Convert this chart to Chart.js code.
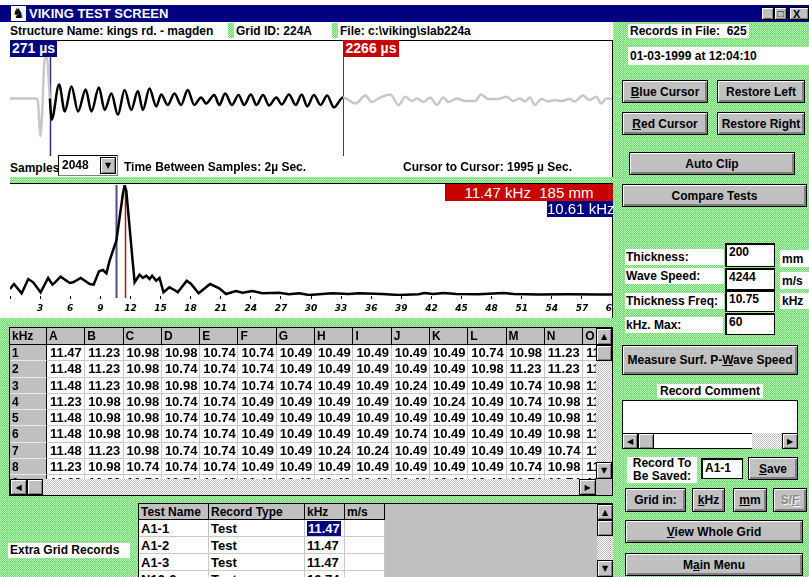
<!DOCTYPE html>
<html>
<head>
<title>Viking Test Screen</title>
<script src="https://cdn.jsdelivr.net/npm/chart.js"></script>
<style>
    body {
        margin: 0;
        width: 809px;
        height: 577px;
        overflow: hidden;
        position: relative;
        font: bold 12px "Liberation Sans", Arial, sans-serif;
        color: #000;
        background: repeating-conic-gradient(#66dd66 0 25%, #bff7bf 0 50%) 0 0 / 2px 2px;
    }
    .abs { position: absolute; }
    .hatch { background: repeating-conic-gradient(#66dd66 0 25%, #bff7bf 0 50%) 0 0 / 2px 2px; }
    .lbl { position: absolute; background: #fff; white-space: pre; line-height: 14px; }
    .btn {
        position: absolute; box-sizing: border-box;
        background: #c0c0c0; border: 1px solid #000;
        box-shadow: inset 1px 1px #fff, inset -2px -2px #808080;
        display: flex; align-items: center; justify-content: center; white-space: pre;
    }
    .btn.off { color: #8a8a8a; text-shadow: 1px 1px #fff; }
    .inp {
        position: absolute; box-sizing: border-box; background: #fff;
        border: 1px solid #000; border-top-width: 2px; border-left-width: 2px;
        padding: 0 0 0 2px; line-height: 15px;
    }
    .arr {
        position: absolute; box-sizing: border-box; background: #c0c0c0;
        border: 1px solid #000; box-shadow: inset 1px 1px #fff, inset -1px -1px #808080;
        font: 8px "DejaVu Sans", sans-serif; display: flex; align-items: center; justify-content: center;
    }
    .track { position: absolute; background: repeating-conic-gradient(#c0c0c0 0 25%, #fff 0 50%) 0 0 / 2px 2px; }
    .grid { position: absolute; display: grid; overflow: hidden; background: #fff; }
    .grid div { box-sizing: border-box; white-space: nowrap; overflow: visible; }
    .hd { background: #c0c0c0; border-right: 1px solid #000; border-bottom: 1px solid #000; padding-left: 2px; font-size: 12px; line-height: 16px; }
    .rh { background: #c0c0c0; border-right: 1px solid #000; border-bottom: 1px solid #e8e8e8; padding-left: 2px; font-size: 12px; line-height: 16px; }
    .cl { border-right: 1px solid #c8c8c8; border-bottom: 1px solid #c8c8c8; padding-left: 3px; font-size: 13px; line-height: 16px; }
    .cl2 { border-right: 1px solid #c8c8c8; border-bottom: 1px solid #c8c8c8; padding-left: 2px; font-size: 13px; line-height: 17px; }
    .tag { position: absolute; color: #fff; white-space: pre; text-align: center; }
</style>
</head>
<body>
    <!-- title bar -->
    <div class="abs" style="left:0;top:0;width:809px;height:5px;background:#fff"></div>
    <div class="abs" style="left:0;top:5px;width:809px;height:17px;background:#000080"></div>
    <div class="abs" style="left:11px;top:6px;width:15px;height:15px;background:#fff;font:14px 'DejaVu Sans';line-height:15px;text-align:center">&#9822;</div>
    <div class="abs" style="left:29px;top:5px;line-height:17px;color:#fff;font-size:13px">VIKING TEST SCREEN</div>
    <div class="arr" style="left:761px;top:7px;width:13px;height:13px;font:bold 11px Arial;align-items:flex-end">_</div>
    <div class="arr" style="left:774px;top:7px;width:13px;height:13px;font:bold italic 10px Arial">&#9633;</div>
    <div class="arr" style="left:789px;top:7px;width:20px;height:13px;font:bold 11px Arial;justify-content:flex-start;padding-left:3px">X</div>

    <!-- upper white panel -->
    <div class="abs" style="left:0;top:22px;width:613px;height:296px;background:#fff"></div>
    <div class="lbl" style="left:10px;top:24px">Structure Name: kings rd. - magden</div>
    <div class="abs hatch" style="left:228px;top:23px;width:6px;height:15px"></div>
    <div class="lbl" style="left:236px;top:24px">Grid ID: 224A</div>
    <div class="abs hatch" style="left:332px;top:23px;width:6px;height:15px"></div>
    <div class="lbl" style="left:340px;top:24px">File: c:\viking\slab224a</div>
    <div class="abs" style="left:10px;top:40px;width:603px;height:1px;background:#000"></div>
    <div class="abs" style="left:612px;top:40px;width:1px;height:278px;background:#000"></div>

    <canvas id="wave" class="abs" style="left:10px;top:41px" width="602" height="115"></canvas>
    <div class="tag" style="left:10px;top:40px;width:47px;height:17px;background:#000080;font-size:14px;line-height:17px">271 µs</div>
    <div class="tag" style="left:343px;top:40px;width:56px;height:17px;background:#c80000;font-size:14px;line-height:17px">2266 µs</div>

    <div class="lbl" style="left:10px;top:161px">Samples</div>
    <div class="abs" style="left:58px;top:155px;width:60px;height:21px;box-sizing:border-box;background:#fff;border:1px solid #808080;border-top-color:#000;border-left-color:#000"></div>
    <div class="lbl" style="left:62px;top:158px;background:none">2048</div>
    <div class="arr" style="left:100px;top:157px;width:16px;height:17px">&#9660;</div>
    <div class="lbl" style="left:124px;top:160px">Time Between Samples: 2µ Sec.</div>
    <div class="lbl" style="left:403px;top:160px">Cursor to Cursor: 1995 µ Sec.</div>
    <div class="abs hatch" style="left:10px;top:177px;width:603px;height:6px"></div>
    <div class="abs" style="left:10px;top:183px;width:603px;height:1px;background:#000"></div>

    <canvas id="spec" class="abs" style="left:10px;top:184px" width="602" height="134"></canvas>
    <div class="tag" style="left:445px;top:184px;width:168px;height:17px;background:#c80000;font:15px 'Liberation Sans';line-height:17px">11.47 kHz  185 mm</div>
    <div class="tag" style="left:547px;top:201px;width:66px;height:16px;background:#000080;font:15px 'Liberation Sans';line-height:16px">10.61 kHz</div>

    <!-- kHz grid -->
    <div class="abs" style="left:9px;top:327px;width:604px;height:169px;box-sizing:border-box;border:1px solid #000;background:#c0c0c0"></div>
    <div id="grid" class="grid" style="left:10px;top:328px;width:586px;height:151px;grid-template-columns:37px repeat(15, 38.3px);grid-template-rows:17px;grid-auto-rows:16.3px"></div>
    <div class="arr" style="left:596px;top:328px;width:16px;height:17px">&#9650;</div>
    <div class="track" style="left:596px;top:345px;width:16px;height:117px"></div>
    <div class="arr" style="left:596px;top:345px;width:16px;height:16px"></div>
    <div class="arr" style="left:596px;top:462px;width:16px;height:17px">&#9660;</div>
    <div class="arr" style="left:10px;top:479px;width:17px;height:16px">&#9664;</div>
    <div class="track" style="left:27px;top:479px;width:552px;height:16px"></div>
    <div class="arr" style="left:27px;top:479px;width:16px;height:16px"></div>
    <div class="arr" style="left:579px;top:479px;width:17px;height:16px">&#9654;</div>

    <!-- extra grid records -->
    <div class="lbl" style="left:8px;top:543px;width:120px;height:15px;padding-left:2px">Extra Grid Records</div>
    <div class="abs" style="left:138px;top:503px;width:475px;height:80px;box-sizing:border-box;border:1px solid #000;background:#c0c0c0"></div>
    <div id="extra" class="grid" style="left:139px;top:504px;width:246px;height:73px;grid-template-columns:70px 96px 40px 40px;grid-template-rows:16px;grid-auto-rows:17px"></div>
    <div class="arr" style="left:597px;top:504px;width:16px;height:16px">&#9650;</div>
    <div class="track" style="left:597px;top:520px;width:16px;height:40px"></div>
    <div class="arr" style="left:597px;top:520px;width:16px;height:16px"></div>
    <div class="arr" style="left:597px;top:560px;width:16px;height:17px">&#9660;</div>

    <!-- right panel -->
    <div class="lbl" style="left:628px;top:24px;padding:0 2px">Records in File:  625</div>
    <div class="lbl" style="left:628px;top:47px;width:181px;height:18px;line-height:18px;padding-left:2px">01-03-1999 at 12:04:10</div>
    <div class="btn" style="left:622px;top:80px;width:86px;height:23px"><span><u>B</u>lue Cursor</span></div>
    <div class="btn" style="left:717px;top:80px;width:88px;height:23px">Restore Left</div>
    <div class="btn" style="left:622px;top:112px;width:86px;height:23px"><span><u>R</u>ed Cursor</span></div>
    <div class="btn" style="left:717px;top:112px;width:88px;height:23px">Restore Right</div>
    <div class="btn" style="left:629px;top:152px;width:166px;height:23px">Auto Clip</div>
    <div class="btn" style="left:622px;top:184px;width:185px;height:23px">Compare Tests</div>

    <div class="lbl" style="left:625px;top:249px;width:98px;height:16px;line-height:16px;padding-left:1px">Thickness:</div>
    <div class="inp" style="left:725px;top:243px;width:50px;height:24px">200</div>
    <div class="lbl" style="left:780px;top:250px;width:27px;height:17px;line-height:19px;padding-left:2px">mm</div>
    <div class="lbl" style="left:625px;top:268px;width:98px;height:16px;line-height:16px;padding-left:1px">Wave Speed:</div>
    <div class="inp" style="left:725px;top:268px;width:50px;height:22px">4244</div>
    <div class="lbl" style="left:780px;top:272px;width:27px;height:17px;line-height:19px;padding-left:2px">m/s</div>
    <div class="lbl" style="left:625px;top:293px;width:98px;height:16px;line-height:16px;padding-left:1px">Thickness Freq:</div>
    <div class="inp" style="left:725px;top:290px;width:50px;height:22px">10.75</div>
    <div class="lbl" style="left:780px;top:293px;width:29px;height:16px;line-height:16px;padding-left:2px">kHz</div>
    <div class="lbl" style="left:625px;top:317px;width:97px;height:16px;line-height:16px;padding-left:1px">kHz. Max:</div>
    <div class="inp" style="left:725px;top:313px;width:50px;height:22px">60</div>

    <div class="btn" style="left:622px;top:345px;width:176px;height:30px"><span>Measure Surf. P-<u>W</u>ave Speed</span></div>
    <div class="lbl" style="left:657px;top:384px;width:106px;text-align:center">Record Comment</div>
    <div class="abs" style="left:622px;top:400px;width:176px;height:34px;box-sizing:border-box;background:#fff;border:1px solid #000"></div>
    <div class="arr" style="left:622px;top:433px;width:16px;height:16px">&#9664;</div>
    <div class="track" style="left:638px;top:433px;width:144px;height:16px"></div>
    <div class="arr" style="left:638px;top:433px;width:16px;height:16px"></div>
    <div class="abs" style="left:654px;top:433px;width:98px;height:16px;background:#fff;border-top:1px solid #000;border-bottom:1px solid #000;box-sizing:border-box"></div>
    <div class="arr" style="left:782px;top:433px;width:16px;height:16px">&#9654;</div>

    <div class="lbl" style="left:627px;top:457px;width:70px;height:26px;line-height:13px;text-align:center">Record To
Be Saved:</div>
    <div class="inp" style="left:701px;top:458px;width:42px;height:21px;line-height:16px">A1-1</div>
    <div class="btn" style="left:748px;top:457px;width:50px;height:23px"><span><u>S</u>ave</span></div>
    <div class="btn" style="left:625px;top:488px;width:61px;height:24px">Grid in:</div>
    <div class="btn" style="left:692px;top:488px;width:33px;height:24px"><span><u>k</u>Hz</span></div>
    <div class="btn" style="left:733px;top:488px;width:34px;height:24px"><span><u>m</u>m</span></div>
    <div class="btn off" style="left:773px;top:488px;width:34px;height:24px"><span>S/<u>F</u></span></div>
    <div class="btn" style="left:625px;top:520px;width:178px;height:23px"><span><u>V</u>iew Whole Grid</span></div>
    <div class="btn" style="left:625px;top:553px;width:178px;height:23px"><span>M<u>a</u>in Menu</span></div>

<script>
    // waveform: time in µs, amplitude in screen units
    const waveTime = [
        0, 176, 190, 207, 217, 237, 251, 271, 283, 334,
        373, 418, 463, 515, 554, 605, 644, 690, 734, 780,
        825, 870, 904, 949, 995, 1029, 1073, 1119, 1164, 1209,
        1254, 1300, 1334, 1390, 1424, 1464, 1510, 1555, 1593, 1639,
        1677, 1722, 1763, 1812, 1849, 1898, 1944, 1985, 2022, 2068,
        2113, 2158, 2204, 2266, 2351, 2419, 2461, 2520, 2588, 2644,
        2690, 2735, 2769, 2814, 2859, 2904, 2949, 2983, 3040, 3096,
        3164, 3205, 3254, 3322, 3376, 3424, 3469, 3503, 3537, 3571,
        3616, 3661, 3707, 3752, 3808, 3842, 3899, 3944, 3989, 4023,
        4057, 4095
    ];
    const waveAmp = [
        0, 0, -3, -38, -20, 41, 41, 0, -21.5, 14,
        -13, 12, -13, 9, -13, 11, -11.5, 5, -16.5, 8.5,
        -11.5, 7.5, -11.5, 10, -8, 4, -6.5, 5, -6.5, 8.5,
        -6.5, 1, -5, 3.5, -6.5, 5, -6.5, 3.5, -6.5, 4,
        -6.5, 3.5, -7, 1, -6, 4, -6.5, 4, -8, 3.5,
        -6.5, 3, -9, 1, -5, 3, -3.5, 1, 4, -6.5,
        1.8, -2.5, 0, -3.5, 1, -6.5, 1, -3.5, 0, -2.5,
        -2.5, 4, -0.5, -0.5, 1.8, -2.5, 0, -3, 1, -6.5,
        -0.5, -3, -1.5, -2.5, -0.5, -3, 3, -1.5, 1.8, -5,
        0, 0
    ];
    const waveCursors = [271, 2266];   // blue, red (µs)

    // spectrum: frequency in kHz, amplitude
    const specFreq = [
        0, 0.4, 1.16, 1.82, 2.31, 3.05, 3.8, 4.24, 4.47, 5.04,
        5.96, 6.29, 7.05, 7.95, 8.34, 8.87, 9.27, 9.61, 9.93, 10.43,
        10.6, 10.93, 11.25, 11.42, 11.59, 11.92, 12.19, 12.42, 12.91, 13.24,
        13.58, 13.91, 14.17, 14.57, 14.9, 15.3, 15.89, 16.39, 16.72, 17.61,
        18.05, 18.8, 19.2, 19.94, 20.86, 21.53, 22.52, 23.17, 24.17, 25.16,
        26.82, 27.81, 28.81, 29.8, 31.12, 32.12, 33.77, 34.77, 37.08, 38.74,
        40.73, 41.3, 42.2, 43.2, 44.5, 46.7, 49.2, 50.2, 52.6, 55.6,
        58.6, 60
    ];
    const specAmp = [
        8, 13, 3.7, 18, 14.7, 4.7, 19, 12.3, 14.3, 20.3,
        14, 14.7, 19, 13, 12.3, 25.7, 27, 23.7, 36.3, 51.3,
        56.3, 79.7, 103, 111.3, 106.3, 69.7, 39.7, 14.7, 22.3, 19,
        21.3, 18, 21.3, 16.3, 19, 4.7, 9.7, 7, 4.7, 16.3,
        13, 3.7, 7, 13, 8.7, 3, 6, 4.3, 6, 3.7,
        4.3, 2.7, 3.7, 2, 3, 3.7, 3, 3.7, 3, 2,
        2.7, 4, 3, 4, 3, 2.7, 4, 3, 2.5, 2.7,
        2.5, 2.5
    ];
    const specCursors = [10.61, 11.47]; // blue, red (kHz)
    const freqStep = 3;

    const gridCols = ['A','B','C','D','E','F','G','H','I','J','K','L','M','N','O'];
    const gridRows = [
        ['11.47','11.23','10.98','10.98','10.74','10.74','10.49','10.49','10.49','10.49','10.49','10.74','10.98','11.23','11.23'],
        ['11.48','11.23','10.98','10.74','10.74','10.74','10.49','10.49','10.49','10.49','10.49','10.98','11.23','11.23','11.23'],
        ['11.48','11.23','10.98','10.98','10.74','10.74','10.74','10.49','10.49','10.24','10.49','10.49','10.74','10.98','11.23'],
        ['11.23','10.98','10.98','10.74','10.74','10.49','10.49','10.49','10.49','10.49','10.24','10.49','10.74','10.98','11.23'],
        ['11.48','10.98','10.98','10.74','10.74','10.49','10.49','10.49','10.49','10.49','10.49','10.49','10.49','10.98','11.23'],
        ['11.48','10.98','10.98','10.74','10.74','10.49','10.49','10.49','10.49','10.74','10.49','10.49','10.49','10.98','11.23'],
        ['11.48','11.23','10.98','10.74','10.74','10.49','10.49','10.24','10.24','10.49','10.49','10.49','10.49','10.74','11.23'],
        ['11.23','10.98','10.74','10.74','10.74','10.49','10.49','10.49','10.49','10.49','10.49','10.49','10.74','10.98','11.23'],
        ['11.23','10.98','10.74','10.74','10.49','10.49','10.49','10.49','10.49','10.49','10.49','10.49','10.74','10.74','11.23']
    ];

    const extraHead = ['Test Name', 'Record Type', 'kHz', 'm/s'];
    const extraName = ['A1-1', 'A1-2', 'A1-3', 'N16-2'];
    const extraType = ['Test', 'Test', 'Test', 'Test'];
    const extraKhz = ['11.47', '11.47', '11.47', '10.74'];

    // vertical cursor lines, drawn through the x scale
    const cursorLines = {
        id: 'cursorLines',
        beforeDatasetsDraw(chart, args, opts) {
            const { ctx, chartArea, scales } = chart;
            opts.lines.forEach(l => {
                const x = Math.round(scales.x.getPixelForValue(l.value)) + 0.5;
                ctx.save();
                ctx.strokeStyle = l.color;
                ctx.lineWidth = l.width;
                ctx.beginPath();
                ctx.moveTo(x, chartArea.top);
                ctx.lineTo(x, chartArea.bottom + (opts.extra || 0));
                ctx.stroke();
                ctx.restore();
            });
        }
    };

    new Chart(document.getElementById('wave'), {
        type: 'line',
        data: {
            datasets: [{
                data: waveTime.map((t, i) => ({ x: t, y: waveAmp[i] })),
                borderColor: '#000',
                borderWidth: 2.5,
                pointRadius: 0,
                cubicInterpolationMode: 'monotone',
                segment: {
                    borderColor: c => (c.p0.parsed.x >= waveCursors[0] && c.p1.parsed.x <= waveCursors[1]) ? '#000' : '#c8c8c8'
                }
            }]
        },
        options: {
            responsive: false,
            animation: false,
            events: [],
            layout: { padding: 0 },
            plugins: {
                legend: { display: false },
                tooltip: { enabled: false },
                cursorLines: {
                    lines: [
                        { value: waveCursors[0], color: '#30307a', width: 1.5 },
                        { value: waveCursors[1], color: '#b01818', width: 1 }
                    ]
                }
            },
            scales: {
                x: { type: 'linear', min: 0, max: 4096, display: false },
                y: { min: -58, max: 58, display: false }
            }
        },
        plugins: [cursorLines]
    });

    new Chart(document.getElementById('spec'), {
        type: 'line',
        data: {
            datasets: [{
                data: specFreq.map((f, i) => ({ x: f, y: specAmp[i] })),
                borderColor: '#000',
                borderWidth: 2.5,
                pointRadius: 0,
                tension: 0
            }]
        },
        options: {
            responsive: false,
            animation: false,
            events: [],
            layout: { padding: { top: 1 } },
            plugins: {
                legend: { display: false },
                tooltip: { enabled: false },
                cursorLines: {
                    extra: 2,
                    lines: [
                        { value: specCursors[0], color: '#4a4a88', width: 2 },
                        { value: specCursors[1], color: '#b01818', width: 1.5 }
                    ]
                }
            },
            scales: {
                x: {
                    type: 'linear', min: 0, max: 60,
                    afterFit: s => { s.height = 22; s.paddingLeft = 0; s.paddingRight = 0; },
                    border: { display: false },
                    grid: { drawOnChartArea: false, tickLength: 3, color: '#000', lineWidth: 1 },
                    ticks: {
                        stepSize: freqStep, autoSkip: false, maxRotation: 0, padding: 4, color: '#000',
                        font: { family: 'DejaVu Sans', size: 9, style: 'italic', weight: 'bold' },
                        callback: v => v === 0 ? '' : v
                    }
                },
                y: { min: 1, max: 112, display: false }
            }
        },
        plugins: [cursorLines]
    });

    // kHz grid table
    let html = '<div class="hd">kHz</div>' + gridCols.map(c => `<div class="hd">${c}</div>`).join('');
    gridRows.forEach((row, i) => {
        html += `<div class="rh">${i + 1}</div>` + row.map(v => `<div class="cl">${v}</div>`).join('');
    });
    document.getElementById('grid').innerHTML = html;

    // extra records table
    let ex = extraHead.map(h => `<div class="hd">${h}</div>`).join('');
    extraName.forEach((n, i) => {
        const k = i === 0 ? `<span style="background:#000080;color:#fff;padding:0 1px">${extraKhz[i]}</span>` : extraKhz[i];
        ex += `<div class="cl2">${n}</div><div class="cl2">${extraType[i]}</div><div class="cl2">${k}</div><div class="cl2"></div>`;
    });
    document.getElementById('extra').innerHTML = ex;
</script>
</body>
</html>
